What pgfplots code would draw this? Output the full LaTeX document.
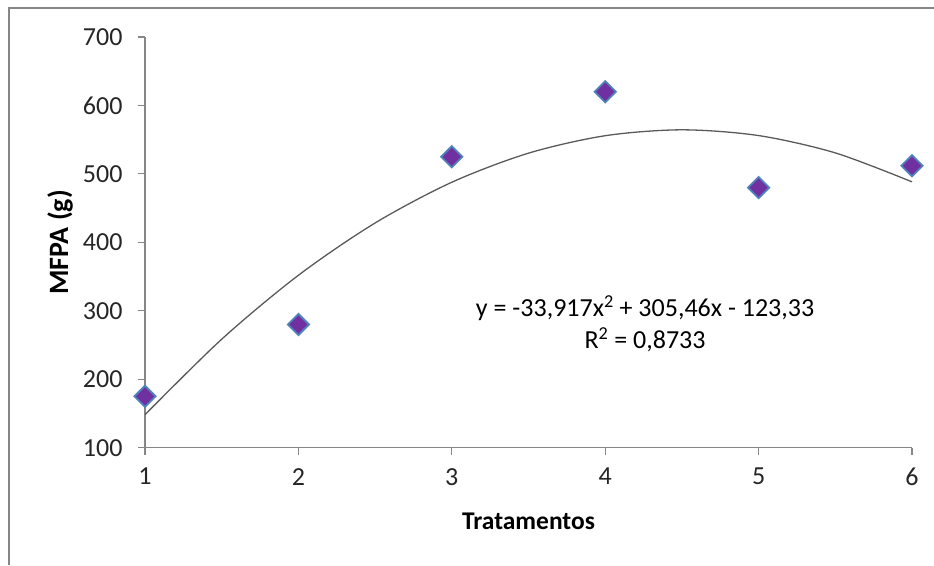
\documentclass[border=0pt]{standalone}
\usepackage{fontspec}
\setmainfont{Carlito}
\usepackage{pgfplots}
\pgfplotsset{compat=1.18}
\definecolor{axisgray}{RGB}{134,134,134}
\definecolor{mkfill}{RGB}{112,48,160}
\definecolor{mkdraw}{RGB}{79,129,189}
\definecolor{trend}{RGB}{90,90,90}

\begin{document}
\begin{tikzpicture}[x=1pt,y=1pt]
\useasboundingbox (0,0) rectangle (934,565);
% chart frame (cut at right and bottom)
\draw[axisgray, line width=2pt] (9,0) -- (9,557) -- (934,557);

\begin{axis}[
    at={(145pt,117.3pt)}, anchor=south west,
    scale only axis,
    width=767pt, height=410.7pt,
    xmin=1, xmax=6, ymin=100, ymax=700,
    xtick={1,2,3,4,5,6}, ytick={100,200,...,700},
    axis x line=bottom, axis y line=left,
    axis line style={axisgray, line width=1.2pt, -},
    tick style={axisgray, line width=1.2pt},
    tick align=outside, major tick length=7pt,
    /pgf/number format/assume math mode=true,
    ticklabel style={font=\fontsize{26}{29}\selectfont, text=black!85},
    xticklabel style={yshift=-10pt},
    yticklabel style={xshift=-12pt},
    xlabel={\textbf{Tratamentos}},
    ylabel={\textbf{MFPA (g)}},
    xlabel style={font=\fontsize{25.5}{28}\selectfont, at={(axis description cs:0.5,0)}, anchor=center, yshift=-74pt},
    ylabel style={font=\fontsize{28}{30}\selectfont, at={(axis description cs:0,0.5)}, anchor=center, yshift=85pt},
    clip=false,
]
% polynomial trend line
\addplot[trend, line width=1.3pt, smooth] coordinates {
    (1,148.2) (1.5,258.5) (2,351.9) (2.5,428.3) (3,487.8)
    (3.5,530.3) (4,555.8) (4.5,564.4) (5,556.0) (5.5,530.7) (6,488.4)
};
% observed data
\addplot[only marks, mark=square*, mark size=7.5pt,
    mark options={rotate=45, fill=mkfill, draw=mkdraw, line width=1.8pt}]
    coordinates {(1,175) (2,280) (3,525) (4,620) (5,480) (6,512)};

\node[font=\fontsize{26}{32}\selectfont, align=center] at (axis cs:4.26,281)
    {y = -33,917x\textsuperscript{2} + 305,46x - 123,33\\R\textsuperscript{2} = 0,8733};
\end{axis}
\end{tikzpicture}
\end{document}
